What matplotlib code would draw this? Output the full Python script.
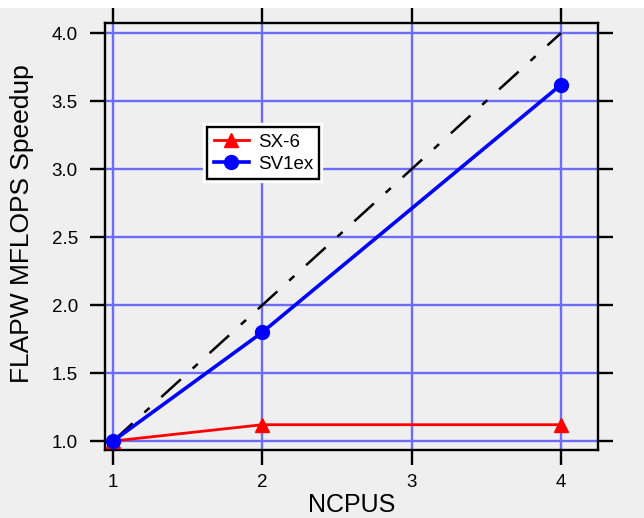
import matplotlib
matplotlib.use('Agg')
import matplotlib.pyplot as plt
import matplotlib.patheffects as pe
from matplotlib.patches import Rectangle

plt.rcParams['font.family'] = ['Liberation Sans', 'DejaVu Sans']
plt.rcParams['lines.scale_dashes'] = False

# data
ncpus_sx6 = [1, 2, 4]
speedup_sx6 = [1.0, 1.12, 1.12]
ncpus_sv1 = [1, 2, 4]
speedup_sv1 = [1.0, 1.80, 3.62]
ideal_x = [1, 4]
ideal_y = [1.0, 4.0]
xticks = [1, 2, 3, 4]
yticks = [1.0, 1.5, 2.0, 2.5, 3.0, 3.5, 4.0]

bg = '#efefef'
gridc = '#6b6bff'

fig = plt.figure(figsize=(6.44, 5.18), dpi=100, facecolor=bg)
fig.patches.append(Rectangle((0, 1 - 8/518), 1, 8/518, transform=fig.transFigure,
                             facecolor='white', edgecolor='none', zorder=-10))
ax = fig.add_axes([105/644, 68/518, 493/644, 427/518])
ax.set_facecolor(bg)

ax.plot(ideal_x, ideal_y, color='black', lw=1.8, dashes=(19, 11.5, 5, 11.5), zorder=3)
ax.plot(ncpus_sx6, speedup_sx6, color='red', lw=2.0, marker='^', ms=9.5,
        label='SX-6', zorder=4)
ax.plot(ncpus_sv1, speedup_sv1, color='blue', lw=2.6, marker='o', ms=10,
        label='SV1ex', zorder=5)

ax.set_xlim(0.946, 4.248)
ax.set_ylim(0.934, 4.074)
ax.set_xticks(xticks)
ax.set_yticks(yticks)
ax.set_yticklabels([f'{v:.1f}' for v in yticks])
ax.grid(True, color=gridc, lw=1.7, zorder=1)
ax.set_axisbelow(True)

for s in ax.spines.values():
    s.set_linewidth(1.7)
ax.tick_params(direction='out', length=10.5, width=1.7, labelsize=13.5,
               top=True, right=True, labeltop=False, labelright=False)
ax.tick_params(axis='y', pad=9)
ax.tick_params(axis='x', pad=7)

ax.set_xlabel('NCPUS', fontsize=18, labelpad=1)
ax.set_ylabel('FLAPW MFLOPS Speedup', fontsize=19)
ax.yaxis.set_label_coords(-0.145, 0.53)

leg = ax.legend(loc='upper left', bbox_to_anchor=(0.207, 0.756), borderaxespad=0,
                fontsize=13.5, fancybox=False, framealpha=1, edgecolor='black',
                handlelength=1.9, handletextpad=0.45, borderpad=0.35, labelspacing=0.25)
leg.get_frame().set_linewidth(1.7)
leg.get_frame().set_path_effects([pe.withStroke(linewidth=6, foreground='white')])

fig.savefig('out.png', dpi=100, facecolor=bg)
